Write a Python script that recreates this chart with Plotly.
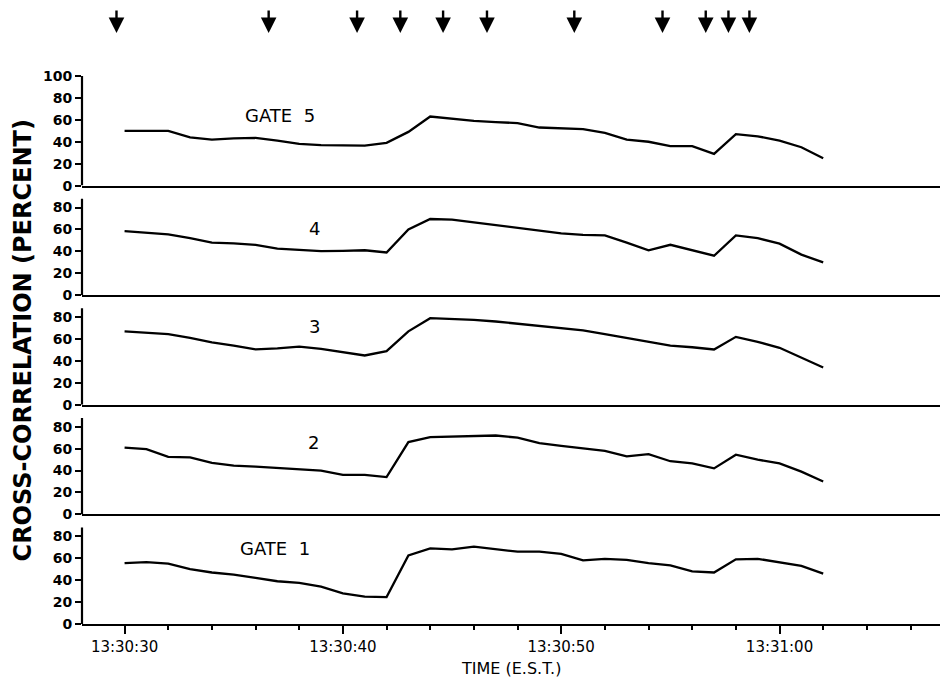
import plotly.graph_objects as go
from plotly.subplots import make_subplots

times = ["13:30:30", "13:30:31", "13:30:32", "13:30:33", "13:30:34", "13:30:35",
         "13:30:36", "13:30:37", "13:30:38", "13:30:39", "13:30:40", "13:30:41",
         "13:30:42", "13:30:43", "13:30:44", "13:30:45", "13:30:46", "13:30:47",
         "13:30:48", "13:30:49", "13:30:50", "13:30:51", "13:30:52", "13:30:53",
         "13:30:54", "13:30:55", "13:30:56", "13:30:57", "13:30:58", "13:30:59",
         "13:31:00", "13:31:01", "13:31:02"]

gate5 = [50, 50, 50, 44, 42, 43, 43.5, 41, 38, 37, 37, 36.5, 39, 49, 63, 61, 59,
         58, 57, 53, 52, 51.5, 48, 42, 40, 36, 36, 29, 47, 45, 41, 35, 25]
gate4 = [58.5, 57, 55.5, 52, 48, 47.3, 46, 42.5, 41.5, 40.3, 40.5, 41, 39, 60, 69.5,
         69, 66.5, 64, 61, 59, 56.5, 55, 54.5, 48, 41, 46, 41, 36, 54.5, 52, 47, 37, 30]
gate3 = [67, 65.5, 64.5, 61, 57, 54, 50.5, 51.5, 53, 51, 48, 45, 49, 67, 79, 78.5,
         77.5, 76, 74, 72, 70.5, 68, 64.5, 61, 57.5, 54, 52.5, 50.5, 62, 57.5, 52, 43, 34]
gate2 = [61, 59.5, 52.5, 52, 47, 44.5, 43.5, 42.5, 41, 40, 36, 36, 34, 66, 70.5, 71,
         71, 72, 70, 65, 62.5, 60, 58, 53, 55, 48.5, 46.5, 42, 54.5, 50, 46.5, 39, 30]
gate1 = [55.5, 56.5, 55, 50, 47, 45, 42, 39, 37.5, 34, 28, 25, 24.5, 62.5, 69, 68,
         70.5, 68, 66, 66, 64, 58, 59.5, 58.5, 55.5, 53.5, 48, 47, 59, 59.5, 56, 53, 46]

panel_labels = ["GATE\u00a0\u00a05", "4", "3", "2", "GATE\u00a0\u00a01"]
label_times = ["13:30:37.1", "13:30:38.7", "13:30:38.7", "13:30:38.65", "13:30:36.9"]
label_values = [63.6, 61, 71, 66, 69]

event_times = ["13:30:29.63", "13:30:36.6", "13:30:40.65", "13:30:42.63", "13:30:44.59",
               "13:30:46.6", "13:30:50.6", "13:30:54.64", "13:30:56.62", "13:30:57.66",
               "13:30:58.62"]

DAY = "2000-01-01 "
series = [gate5, gate4, gate3, gate2, gate1]
xs = [DAY + t for t in times]

FONT = "DejaVu Sans"
fig = make_subplots(rows=5, cols=1, shared_xaxes=True, vertical_spacing=0)

for i, vals in enumerate(series):
    row = i + 1
    fig.add_trace(go.Scatter(x=xs, y=vals, mode="lines",
                             line=dict(color="black", width=2.3),
                             showlegend=False, hoverinfo="skip"), row=row, col=1)
    tickvals = [0, 20, 40, 60, 80, 100] if i == 0 else [0, 20, 40, 60, 80]
    fig.update_yaxes(range=[0, 100], tickvals=tickvals, ticks="outside", ticklen=6,
                     tickwidth=2, tickcolor="black", showline=False, showgrid=False,
                     zeroline=False,
                     tickfont=dict(family=FONT, size=14, color="black", weight="bold"),
                     row=row, col=1)
    yref = "y" if row == 1 else f"y{row}"
    xref = "x" if row == 1 else f"x{row}"
    fig.add_shape(type="line", xref=f"{xref} domain", yref=yref, x0=0, x1=0,
                  y0=0, y1=(100 if i == 0 else 88),
                  line=dict(color="black", width=2.2))
    fig.add_annotation(x=DAY + label_times[i], y=label_values[i], xref=xref, yref=yref,
                       text=panel_labels[i], showarrow=False,
                       font=dict(family=FONT, size=18, color="black"))
    fig.update_xaxes(showline=True, linecolor="black", linewidth=2.2, showgrid=False,
                     zeroline=False, row=row, col=1,
                     range=[DAY + "13:30:28.05", DAY + "13:31:07.35"],
                     ticks="", showticklabels=False)

fig.update_xaxes(row=5, col=1, showticklabels=True, ticks="outside", ticklen=8,
                 tickwidth=2, tickcolor="black", dtick=10000,
                 tick0=DAY + "13:30:30", tickformat="%H:%M:%S",
                 ticklabelstandoff=0,
                 tickfont=dict(family=FONT, size=15, color="black"),
                 minor=dict(dtick=2000, ticks="outside", ticklen=4, tickwidth=1.5,
                            tickcolor="black", showgrid=False))

for t in event_times:
    fig.add_annotation(x=DAY + t, xref="x5", yref="paper", y=1.0785, text="",
                       showarrow=True, ax=0, ay=-24, axref="pixel", ayref="pixel",
                       arrowhead=2, arrowsize=1.3, arrowwidth=2.4, arrowcolor="black")

fig.add_annotation(text="CROSS-CORRELATION (PERCENT)", xref="paper", yref="paper",
                   x=-0.069, y=0.517, textangle=-90, showarrow=False,
                   xanchor="center", yanchor="middle",
                   font=dict(family=FONT, size=24, color="black", weight="bold"))
fig.add_annotation(text="TIME (E.S.T.)", xref="paper", yref="paper",
                   x=0.5, y=-0.082, showarrow=False, xanchor="center", yanchor="middle",
                   font=dict(family=FONT, size=16, color="black"))

fig.update_layout(width=940, height=683, margin=dict(l=82, r=0, t=76, b=59),
                  plot_bgcolor="white", paper_bgcolor="white")

fig.write_html("out.html", config={"displayModeBar": False},
               post_script="document.body.style.margin='0';document.body.style.overflow='hidden';")
